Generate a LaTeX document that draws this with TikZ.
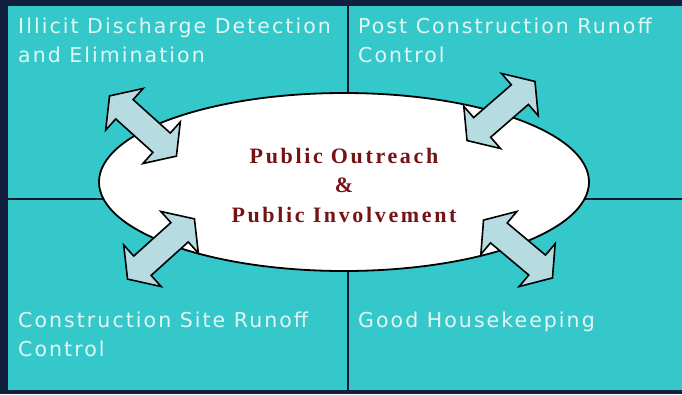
\documentclass[tikz,border=0pt]{standalone}
\usepackage{fontspec}
\usetikzlibrary{shapes.geometric}
\setmainfont{Liberation Serif}
\newfontfamily\quadfont[LetterSpace=10]{DejaVu Sans}
\newfontfamily\hubfont[LetterSpace=12]{Liberation Serif}
\definecolor{frame}{RGB}{16,32,62}
\definecolor{panel}{RGB}{52,200,202}
\definecolor{label}{RGB}{226,246,244}
\definecolor{hubred}{RGB}{118,18,20}
\definecolor{arrowblue}{RGB}{182,220,226}
\tikzset{
  divider/.style={draw=frame!80!black, line width=2pt},
  hub/.style={ellipse, draw=black, line width=1.8pt, fill=white,
    minimum width=490pt, minimum height=178pt, inner sep=0pt},
  hubline/.style={anchor=base, inner sep=0pt, text=hubred,
    font=\hubfont\bfseries\fontsize{22}{26}\selectfont},
  quadlabel/.style={anchor=base west, inner sep=0pt, align=left, text=label,
    font=\quadfont\fontsize{20.5}{29}\selectfont},
  arrowbody/.style={draw=black, line width=1.6pt, line join=miter, fill=arrowblue},
  linkarrow/.pic={
    \path[arrowbody] (-45,0) -- (-25,-28) -- (-25,-13) -- (25,-13) -- (25,-28)
      -- (45,0) -- (25,28) -- (25,13) -- (-25,13) -- (-25,28) -- cycle;
  }
}
\begin{document}
\begin{tikzpicture}[x=1pt,y=-1pt]
  \useasboundingbox (0,0) rectangle (682,394);
  % frame and panel
  \fill[frame] (0,0) rectangle (682,394);
  \fill[panel] (8,6) rectangle (682,390);
  % quadrant dividers
  \draw[divider] (348,6) -- (348,390);
  \draw[divider] (8,199) -- (682,199);
  % quadrant labels (anchored on the baseline of their last line)
  \node[quadlabel] (idde) at (18,62) {Illicit Discharge Detection\\and Elimination};
  \node[quadlabel] (pcrc) at (358,62) {Post Construction Runoff\\Control};
  \node[quadlabel] (csrc) at (18,356) {Construction Site Runoff\\Control};
  \node[quadlabel] (gh) at (358,327) {Good Housekeeping};
  % central ellipse
  \node[hub] (hub) at (344,182) {};
  \node[hubline] (hubA) at (344,163) {Public Outreach};
  \node[hubline] (hubB) at (344,192) {\&};
  \node[hubline] (hubC) at (344,222) {Public Involvement};
  % two-way arrows between the ellipse and each quadrant
  \pic[rotate=-42] (arrUL) at (143,126) {linkarrow};
  \pic[rotate=41] (arrUR) at (501,111) {linkarrow};
  \pic[rotate=42] (arrLL) at (161,249) {linkarrow};
  \pic[rotate=-40] (arrLR) at (518,249) {linkarrow};
\end{tikzpicture}
\end{document}
